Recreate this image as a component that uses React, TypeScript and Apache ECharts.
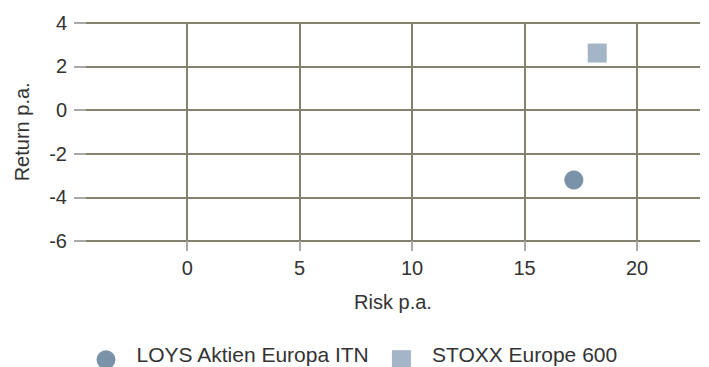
import React, { useEffect, useRef } from "react";
import * as echarts from "echarts";

const seriesNames = ["LOYS Aktien Europa ITN", "STOXX Europe 600"];
const riskValues = [17.19, 18.23];
const returnValues = [-3.21, 2.61];
const seriesColors = ["#7b93a9", "#a3b5c6"];
const seriesSymbols = ["circle", "rect"];
const xTickValues = [0, 5, 10, 15, 20];
const yTickInterval = 2;

const FONT = "'Liberation Sans', Arial, sans-serif";
const TEXT = "#333333";
const GRID = "#84826f";
const TICK = "#a9a9a9";

// legend icons: shape sits in the lower part of a 19x29 box so it lines up below the text centre
const legendIcons = [
  "path://M0,0M0,19.5A9.5,9.5,0,1,1,19,19.5A9.5,9.5,0,1,1,0,19.5Z",
  "path://M0,0M0,10L19,10L19,29L0,29Z",
];

export default function App() {
  const ref = useRef<HTMLDivElement>(null);
  useEffect(() => {
    if (!ref.current) return;
    const chart = echarts.init(ref.current, undefined, { renderer: "svg" });
    chart.setOption({
      animation: false,
      textStyle: { fontFamily: FONT },
      grid: { left: 86, right: 9, top: 22.7, bottom: 126 },
      legend: {
        left: 96.5,
        top: 340.2,
        padding: 0,
        itemWidth: 19,
        itemHeight: 29,
        itemGap: 22,
        formatter: (name: string) => `{n|${name}}`,
        textStyle: {
          fontSize: 21,
          color: TEXT,
          fontFamily: FONT,
          rich: {
            n: { fontSize: 21, color: TEXT, fontFamily: FONT, padding: [0, 0, 0, 16] },
          },
        },
        data: seriesNames.map((n, i) => ({ name: n, icon: legendIcons[i] })),
      },
      xAxis: {
        type: "value",
        min: -4.5,
        max: 22.8,
        name: "Risk p.a.",
        nameLocation: "middle",
        nameGap: 51,
        nameTextStyle: { fontSize: 20, color: TEXT, fontFamily: FONT },
        axisLine: { show: false, onZero: false },
        axisTick: { show: true, length: 10, lineStyle: { color: TICK, width: 2 }, customValues: xTickValues },
        axisLabel: { fontSize: 20, color: TEXT, fontFamily: FONT, margin: 17, customValues: xTickValues },
        splitLine: { show: true, lineStyle: { color: GRID, width: 2 } },
      },
      yAxis: {
        type: "value",
        min: -6,
        max: 4,
        interval: yTickInterval,
        name: "Return p.a.",
        nameLocation: "middle",
        nameGap: 54,
        nameTextStyle: { fontSize: 20, color: TEXT, fontFamily: FONT },
        axisLine: { show: false, onZero: false },
        axisTick: { show: true, length: 12, lineStyle: { color: TICK, width: 2 } },
        axisLabel: { fontSize: 20, color: TEXT, fontFamily: FONT, margin: 19 },
        splitLine: { show: true, lineStyle: { color: GRID, width: 2 } },
      },
      series: seriesNames.map((n, i) => ({
        name: n,
        type: "scatter",
        symbol: seriesSymbols[i],
        symbolSize: 19,
        itemStyle: { color: seriesColors[i], opacity: 1 },
        data: [[riskValues[i], returnValues[i]]],
      })),
    });
    return () => chart.dispose();
  }, []);
  return (
    <div
      ref={ref}
      style={{ position: "fixed", left: 0, top: 0, width: 709, height: 367, background: "#fff" }}
    />
  );
}
